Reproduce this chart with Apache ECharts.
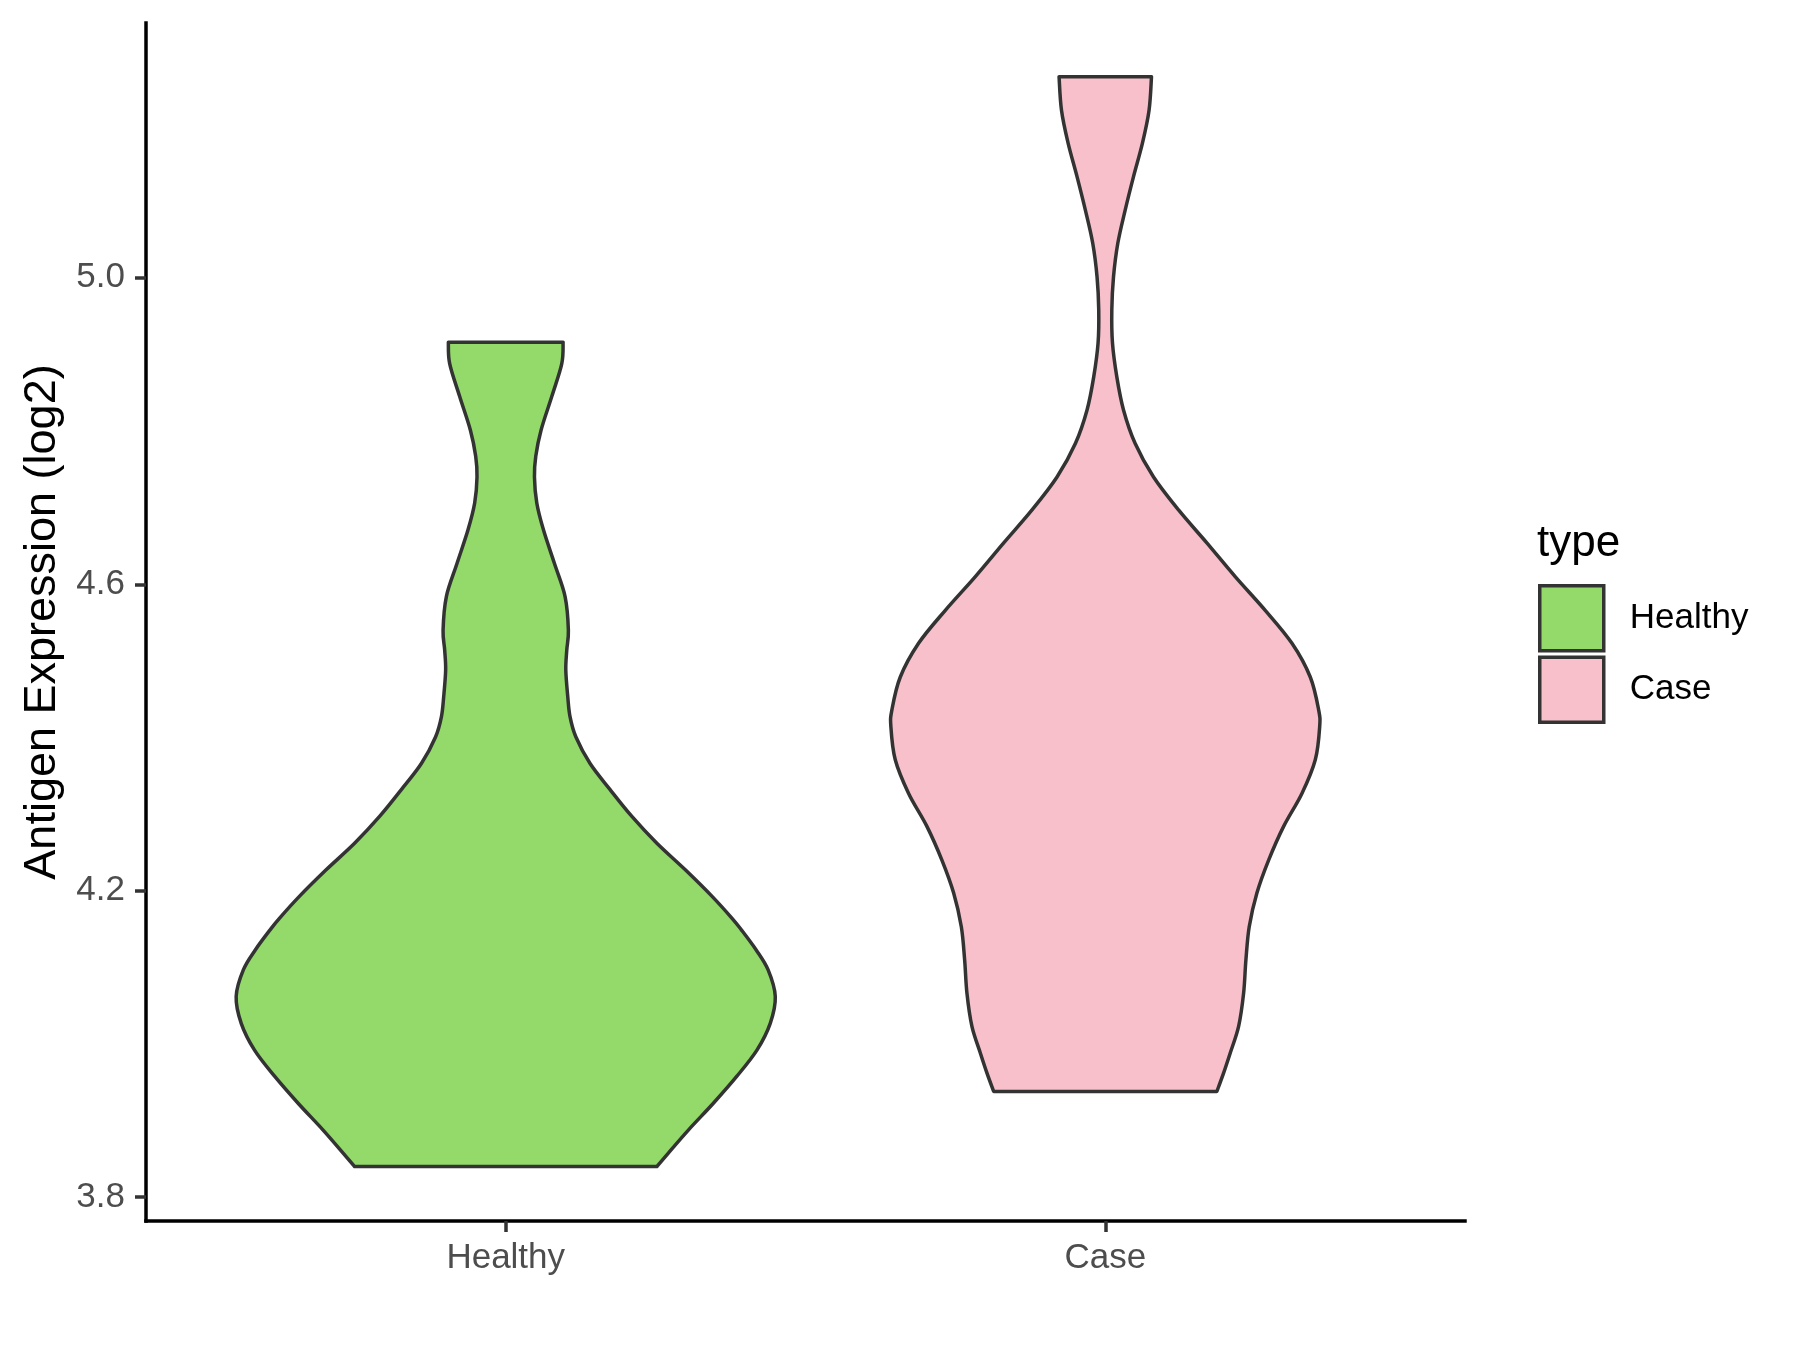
<!DOCTYPE html>
<html>
<head>
<meta charset="utf-8">
<script src="https://cdn.jsdelivr.net/npm/echarts@6/dist/echarts.min.js"></script>
<style>
  html, body { margin: 0; padding: 0; background: #fff; }
  #chart { width: 1800px; height: 1350px; }
</style>
</head>
<body>
<div id="chart"></div>
<script>
// ---- data ----
const categories = ['Healthy', 'Case'];
const yTicks = [3.8, 4.2, 4.6, 5.0];

// Healthy violin: expression values (top -> bottom) and half-widths (x-axis units)
const healthyY = [4.916, 4.888, 4.845, 4.801, 4.767, 4.740, 4.706, 4.671, 4.627, 4.584, 4.540, 4.514, 4.488, 4.453, 4.427, 4.401, 4.366, 4.332, 4.297, 4.262, 4.227, 4.192, 4.164, 4.149, 4.123, 4.097, 4.062, 4.027, 3.992, 3.958, 3.923, 3.888, 3.858, 3.840];
const healthyHalf = [0.0957, 0.0935, 0.0768, 0.0589, 0.0501, 0.0479, 0.0518, 0.0629, 0.0813, 0.0990, 0.1045, 0.1018, 0.1002, 0.1035, 0.1073, 0.1169, 0.1407, 0.1741, 0.2104, 0.2521, 0.3000, 0.3450, 0.3775, 0.3930, 0.4175, 0.4375, 0.4496, 0.4412, 0.4190, 0.3856, 0.3467, 0.3050, 0.2716, 0.2521];

// Case violin
const caseY = [5.2624, 5.219, 5.176, 5.132, 5.088, 5.045, 5.001, 4.958, 4.915, 4.871, 4.8275, 4.784, 4.740, 4.697, 4.654, 4.610, 4.566, 4.523, 4.479, 4.436, 4.414, 4.371, 4.327, 4.284, 4.240, 4.197, 4.153, 4.110, 4.066, 4.023, 3.988, 3.962, 3.938];
const caseHalf = [0.0771, 0.0731, 0.0621, 0.0471, 0.0331, 0.0209, 0.0137, 0.0109, 0.0120, 0.0192, 0.0304, 0.0497, 0.0805, 0.1222, 0.1694, 0.2167, 0.2668, 0.3114, 0.3419, 0.3559, 0.3576, 0.3503, 0.3280, 0.2975, 0.2725, 0.2529, 0.2401, 0.2346, 0.2307, 0.2224, 0.2083, 0.1973, 0.1861];

const profiles = [
  { y: healthyY, half: healthyHalf },
  { y: caseY, half: caseHalf }
];
const fillColors = ['#93DA6A', '#F7C0CB'];
const outline = '#333333';
const FONT = '"Liberation Sans", Arial, Helvetica, sans-serif';

// smooth path through pixel points (Catmull-Rom -> cubic bezier)
function curveSegs(pts) {
  let d = '';
  for (let i = 0; i < pts.length - 1; i++) {
    const p0 = pts[Math.max(i - 1, 0)], p1 = pts[i], p2 = pts[i + 1], p3 = pts[Math.min(i + 2, pts.length - 1)];
    const c1 = [p1[0] + (p2[0] - p0[0]) / 6, p1[1] + (p2[1] - p0[1]) / 6];
    const c2 = [p2[0] - (p3[0] - p1[0]) / 6, p2[1] - (p3[1] - p1[1]) / 6];
    d += ' C' + c1[0].toFixed(2) + ',' + c1[1].toFixed(2) + ' ' + c2[0].toFixed(2) + ',' + c2[1].toFixed(2) + ' ' + p2[0].toFixed(2) + ',' + p2[1].toFixed(2);
  }
  return d;
}

function makeRender(gi) {
  return function (params, api) {
    const cx = api.value(0);
    const prof = profiles[gi];
    const left = prof.y.map((v, i) => api.coord([cx - prof.half[i], v]));
    const right = prof.y.map((v, i) => api.coord([cx + prof.half[i], v])).reverse();
    let d = 'M' + left[0][0].toFixed(2) + ',' + left[0][1].toFixed(2);
    d += curveSegs(left);
    d += ' L' + right[0][0].toFixed(2) + ',' + right[0][1].toFixed(2);
    d += curveSegs(right);
    d += ' Z';
    return {
      type: 'path',
      shape: { pathData: d },
      style: { fill: fillColors[gi], stroke: outline, lineWidth: 3.5, lineJoin: 'round' }
    };
  };
}

const chart = echarts.init(document.getElementById('chart'), null, { renderer: 'canvas' });
chart.setOption({
  backgroundColor: '#ffffff',
  animation: false,
  textStyle: { fontFamily: FONT },
  grid: { left: 146, right: 335, top: 23, bottom: 129, containLabel: false },
  xAxis: {
    type: 'value',
    min: 0.4, max: 2.6,
    splitLine: { show: false },
    axisLine: { show: true, onZero: false, lineStyle: { color: '#000000', width: 3.5, cap: 'square' } },
    axisTick: { show: true, customValues: [1, 2], length: 11, lineStyle: { color: outline, width: 3.5 } },
    axisLabel: {
      customValues: [1, 2],
      formatter: v => categories[Math.round(v) - 1] || '',
      color: '#4D4D4D', fontSize: 35, fontFamily: FONT, margin: 20
    }
  },
  yAxis: {
    type: 'value',
    min: 3.769, max: 5.3325,
    splitLine: { show: false },
    axisLine: { show: true, onZero: false, lineStyle: { color: '#000000', width: 3.5, cap: 'square' } },
    axisTick: { show: true, customValues: yTicks, length: 11, lineStyle: { color: outline, width: 3.5 } },
    axisLabel: {
      customValues: yTicks,
      formatter: v => Number(v).toFixed(1),
      color: '#4D4D4D', fontSize: 35, fontFamily: FONT, margin: 21
    },
    name: 'Antigen Expression (log2)',
    nameLocation: 'middle',
    nameGap: 81,
    nameTextStyle: { color: '#000000', fontSize: 45, fontFamily: FONT }
  },
  legend: {
    orient: 'vertical',
    left: 1538, top: 584,
    itemWidth: 64, itemHeight: 65,
    itemGap: 3,
    padding: 0,
    selectedMode: false,
    textStyle: { fontSize: 35, color: '#000000', fontFamily: FONT, padding: [12, 0, 0, 21] },
    data: [
      { name: 'Healthy', icon: 'rect', itemStyle: { color: fillColors[0], borderColor: outline, borderWidth: 3.5 } },
      { name: 'Case', icon: 'rect', itemStyle: { color: fillColors[1], borderColor: outline, borderWidth: 3.5 } }
    ]
  },
  graphic: [{
    type: 'text', left: 1537, top: 522,
    style: { text: 'type', fill: '#000000', font: '44px ' + FONT }
  }],
  series: [
    { name: 'Healthy', type: 'custom', renderItem: makeRender(0), data: [[1]], clip: false, itemStyle: { color: fillColors[0] } },
    { name: 'Case', type: 'custom', renderItem: makeRender(1), data: [[2]], clip: false, itemStyle: { color: fillColors[1] } }
  ]
});
</script>
</body>
</html>
